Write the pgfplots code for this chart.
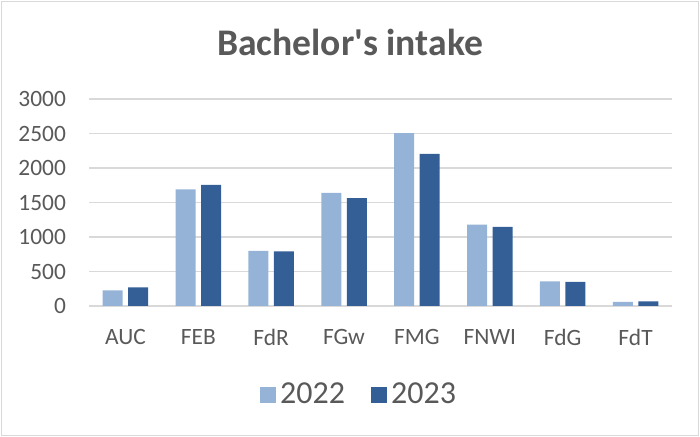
\documentclass[border=0pt]{standalone}
\usepackage{pgfplots}
\pgfplotsset{compat=1.18}
\usepackage{fontspec}
\setmainfont{Carlito}
\definecolor{txtgray}{HTML}{595959}
\definecolor{gridgray}{HTML}{D9D9D9}
\definecolor{c2022}{HTML}{95B3D7}
\definecolor{c2023}{HTML}{335E96}
\begin{document}
\begin{tikzpicture}
\useasboundingbox (0,0) rectangle (350pt,218.5pt);
\draw[gridgray, line width=0.6pt] (0.8pt,0.8pt) rectangle (349.2pt,217.7pt);
\node[anchor=base, text=txtgray, font=\fontsize{18.8}{21}\selectfont\bfseries] at (175pt,190.5pt) {Bachelor\textquotesingle s intake};
\begin{axis}[
    at={(44.5pt,65.5pt)}, anchor=south west,
    scale only axis,
    width=291.5pt, height=103.5pt,
    ybar=2.8pt, bar width=10pt,
    xmin=-0.5, xmax=7.5,
    ymin=0, ymax=3000,
    xtick=data,
    xticklabels={AUC,FEB,FdR,FGw,FMG,FNWI,FdG,FdT},
    ytick={0,500,...,3000},
    major tick length=0pt,
    axis line style={draw=none},
    axis x line*=bottom,
    ymajorgrids,
    grid style={gridgray, line width=0.6pt},
    /pgf/number format/assume math mode=true,
    /pgf/number format/1000 sep={},
    yticklabel style={text=txtgray, font=\fontsize{11.7}{13}\selectfont, xshift=-8pt},
    xticklabel style={text=txtgray, font=\fontsize{11.7}{13}\selectfont, yshift=-8pt},
    legend columns=2,
    legend style={at={(0.465,-0.43)}, anchor=center, draw=none, fill=none,
        font=\fontsize{16}{18}\selectfont, text=txtgray,
        /tikz/every even column/.append style={column sep=11pt}},
    legend image code/.code={\fill[#1] (0pt,-4pt) rectangle (8pt,4pt);},
]
\addplot[fill=c2022, draw=none] coordinates {
    (0,225) (1,1690) (2,800) (3,1640) (4,2505) (5,1180) (6,358) (7,58)};
\addlegendentry{2022}
\addplot[fill=c2023, draw=none] coordinates {
    (0,270) (1,1755) (2,790) (3,1565) (4,2205) (5,1148) (6,348) (7,68)};
\addlegendentry{2023}
\end{axis}
\end{tikzpicture}
\end{document}
